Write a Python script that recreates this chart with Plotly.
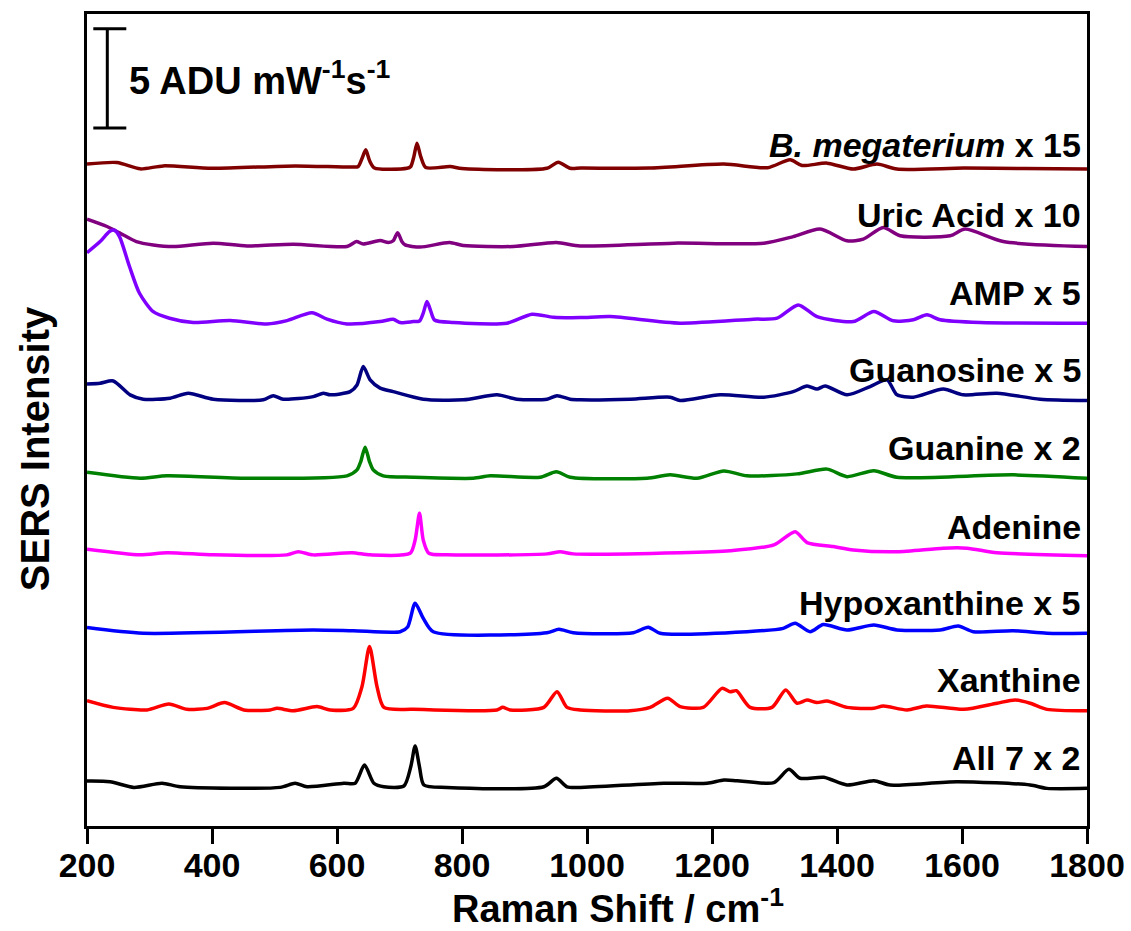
import plotly.graph_objects as go

# ---- data (Raman shift / cm-1, stacked intensity in ADU mW-1 s-1) ----
bmeg_x = [200, 248, 285, 322, 400, 533, 626, 634, 640, 646, 652, 660, 712, 718, 723, 728, 734, 742, 781, 800, 936, 954, 973, 990, 1100, 1219, 1289, 1325, 1344, 1384, 1426, 1464, 1496, 1603, 1700, 1800]
bmeg_y = [33.42, 33.50, 33.18, 33.33, 33.21, 33.33, 33.27, 33.30, 33.70, 34.14, 33.60, 33.22, 33.21, 33.30, 33.80, 34.48, 33.80, 33.25, 33.30, 33.20, 33.21, 33.52, 33.21, 33.22, 33.22, 33.42, 33.24, 33.64, 33.35, 33.47, 33.17, 33.42, 33.17, 33.22, 33.20, 33.17]

uric_x = [200, 232, 252, 279, 306, 338, 402, 456, 530, 616, 631, 642, 669, 682, 690, 697, 704, 709, 733, 780, 802, 882, 951, 989, 1139, 1283, 1330, 1373, 1416, 1442, 1474, 1501, 1581, 1605, 1666, 1800]
uric_y = [30.64, 30.27, 29.95, 29.51, 29.34, 29.26, 29.43, 29.29, 29.38, 29.26, 29.51, 29.39, 29.56, 29.46, 29.55, 29.96, 29.50, 29.34, 29.23, 29.46, 29.31, 29.26, 29.46, 29.29, 29.43, 29.43, 29.76, 30.14, 29.55, 29.63, 30.22, 29.80, 29.80, 30.14, 29.51, 29.26]

amp_x = [200, 221, 236, 244, 252, 268, 284, 306, 332, 370, 429, 488, 520, 560, 584, 616, 669, 690, 701, 722, 732, 738, 744, 750, 756, 786, 872, 912, 946, 989, 1037, 1149, 1266, 1304, 1338, 1368, 1426, 1459, 1490, 1522, 1544, 1565, 1629, 1800]
amp_y = [28.95, 29.51, 30.02, 30.08, 29.76, 28.25, 26.90, 25.97, 25.64, 25.42, 25.52, 25.35, 25.52, 25.92, 25.59, 25.35, 25.47, 25.59, 25.42, 25.47, 25.50, 25.90, 26.48, 26.00, 25.55, 25.42, 25.39, 25.84, 25.69, 25.67, 25.72, 25.39, 25.59, 25.64, 26.31, 25.72, 25.47, 25.98, 25.51, 25.56, 25.81, 25.56, 25.42, 25.39]

guo_x = [200, 221, 242, 269, 290, 333, 362, 402, 482, 498, 514, 562, 578, 589, 621, 632, 642, 653, 669, 690, 738, 802, 856, 888, 936, 952, 973, 989, 1069, 1133, 1149, 1213, 1283, 1330, 1352, 1368, 1381, 1416, 1453, 1480, 1496, 1522, 1570, 1602, 1656, 1725, 1800]
guo_y = [22.32, 22.36, 22.47, 21.77, 21.55, 21.60, 21.85, 21.55, 21.52, 21.73, 21.55, 21.68, 21.85, 21.77, 21.93, 22.27, 23.20, 22.53, 22.11, 21.93, 21.55, 21.52, 21.77, 21.55, 21.55, 21.73, 21.55, 21.52, 21.55, 21.65, 21.48, 21.77, 21.65, 21.93, 22.22, 22.06, 22.22, 21.77, 22.19, 22.53, 21.77, 21.65, 22.06, 21.77, 21.85, 21.55, 21.48]

gua_x = [200, 285, 328, 456, 616, 632, 638, 645, 652, 658, 674, 722, 818, 845, 925, 951, 973, 1096, 1133, 1176, 1219, 1256, 1336, 1384, 1416, 1459, 1496, 1682, 1800]
gua_y = [17.86, 17.56, 17.68, 17.56, 17.68, 17.98, 18.40, 19.13, 18.40, 17.98, 17.68, 17.61, 17.56, 17.68, 17.61, 17.89, 17.61, 17.56, 17.73, 17.56, 17.93, 17.68, 17.78, 18.02, 17.64, 17.94, 17.61, 17.73, 17.56]

ade_x = [200, 285, 328, 402, 520, 538, 562, 624, 653, 717, 725, 732, 738, 747, 776, 936, 957, 978, 1149, 1229, 1299, 1333, 1352, 1394, 1426, 1496, 1570, 1608, 1656, 1800]
ade_y = [13.97, 13.69, 13.80, 13.69, 13.69, 13.85, 13.69, 13.80, 13.69, 13.77, 14.44, 15.79, 14.44, 13.77, 13.69, 13.74, 13.85, 13.74, 13.80, 13.90, 14.19, 14.86, 14.31, 14.11, 13.94, 13.85, 14.03, 14.03, 13.80, 13.64]

hyp_x = [200, 290, 562, 626, 701, 713, 725, 738, 754, 936, 955, 978, 1074, 1098, 1117, 1256, 1314, 1333, 1357, 1378, 1416, 1459, 1496, 1565, 1594, 1618, 1682, 1736, 1800]
hyp_y = [10.02, 9.73, 9.90, 9.86, 9.81, 10.05, 11.25, 10.49, 9.81, 9.76, 9.93, 9.76, 9.76, 10.04, 9.73, 9.81, 9.98, 10.24, 9.81, 10.17, 9.90, 10.15, 9.90, 9.90, 10.10, 9.81, 9.86, 9.73, 9.73]

xan_x = [200, 242, 296, 331, 360, 392, 420, 451, 493, 504, 530, 568, 589, 626, 640, 652, 664, 675, 722, 856, 865, 877, 931, 952, 968, 989, 1069, 1101, 1129, 1149, 1186, 1216, 1229, 1239, 1261, 1296, 1318, 1336, 1352, 1368, 1384, 1416, 1459, 1474, 1512, 1543, 1603, 1656, 1685, 1709, 1736, 1800]
xan_y = [6.33, 5.99, 5.86, 6.16, 5.89, 5.94, 6.23, 5.86, 5.86, 5.94, 5.82, 6.03, 5.86, 5.94, 7.04, 9.06, 7.04, 5.99, 5.89, 5.86, 5.99, 5.86, 5.99, 6.78, 5.99, 5.86, 5.82, 5.99, 6.45, 6.03, 5.99, 6.95, 6.78, 6.83, 5.99, 5.99, 6.87, 6.20, 6.36, 6.23, 6.31, 5.99, 5.94, 6.06, 5.86, 6.06, 5.89, 6.20, 6.36, 6.20, 5.89, 5.82]

all_x = [200, 237, 275, 320, 349, 509, 533, 552, 611, 629, 644, 659, 675, 707, 718, 725, 732, 739, 776, 931, 951, 968, 989, 1123, 1192, 1219, 1240, 1299, 1323, 1341, 1379, 1416, 1459, 1485, 1592, 1709, 1736, 1800]
all_y = [2.27, 2.24, 1.95, 2.16, 1.98, 1.95, 2.16, 1.98, 2.16, 2.16, 3.08, 2.16, 1.98, 2.02, 2.99, 4.04, 2.99, 2.07, 1.95, 1.98, 2.41, 1.98, 1.95, 2.16, 2.16, 2.32, 2.29, 2.19, 2.86, 2.41, 2.46, 2.07, 2.29, 2.07, 2.24, 2.07, 1.90, 1.90]

series_names = ["<i>B. megaterium</i> x 15", "Uric Acid x 10", "AMP x 5", "Guanosine x 5", "Guanine x 2",
                "Adenine", "Hypoxanthine x 5", "Xanthine", "All 7 x 2"]
series_x = [bmeg_x, uric_x, amp_x, guo_x, gua_x, ade_x, hyp_x, xan_x, all_x]
series_y = [bmeg_y, uric_y, amp_y, guo_y, gua_y, ade_y, hyp_y, xan_y, all_y]
series_colors = ["#800000", "#800080", "#8000FF", "#000080", "#008000", "#FF00FF", "#0000FF", "#FF0000", "#000000"]
label_y = [34.39, 30.86, 26.92, 23.03, 19.09, 15.10, 11.26, 7.37, 3.43]

x_ticks = [200, 400, 600, 800, 1000, 1200, 1400, 1600, 1800]
scale_bar = 5  # ADU mW-1 s-1
scale_bar_top = 40.25

FONT = "Liberation Sans, Arial, sans-serif"

fig = go.Figure()
for nm, xs, ys, c in zip(series_names, series_x, series_y, series_colors):
    fig.add_trace(go.Scatter(x=xs, y=ys, mode="lines", name=nm,
                             line=dict(color=c, width=3.5, shape="spline", smoothing=0.7),
                             showlegend=False))

for nm, ly in zip(series_names, label_y):
    fig.add_annotation(x=1793, y=ly, xref="x", yref="y", text=nm, showarrow=False,
                       xanchor="right", yanchor="middle",
                       font=dict(family=FONT, size=34, color="black", weight="bold"))

# scale bar
fig.add_shape(type="line", xref="paper", yref="y", x0=0.0203, x1=0.0203,
              y0=scale_bar_top - scale_bar, y1=scale_bar_top, line=dict(color="black", width=3))
for yy in (scale_bar_top - scale_bar, scale_bar_top):
    fig.add_shape(type="line", xref="paper", yref="y", x0=0.0063, x1=0.0393,
                  y0=yy, y1=yy, line=dict(color="black", width=3))
fig.add_annotation(x=0.040, y=scale_bar_top - scale_bar / 2, xref="paper", yref="y",
                   text="%d ADU mW<sup>-1</sup>s<sup>-1</sup>" % scale_bar, showarrow=False,
                   xanchor="left", yanchor="middle",
                   font=dict(family=FONT, size=38, color="black", weight="bold"))

# axis titles
fig.add_annotation(x=0.531, y=-0.098, xref="paper", yref="paper",
                   text="Raman Shift / cm<sup>-1</sup>", showarrow=False,
                   xanchor="center", yanchor="middle",
                   font=dict(family=FONT, size=38, color="black", weight="bold"))
fig.add_annotation(x=-0.052, y=0.464, xref="paper", yref="paper", textangle=-90,
                   text="SERS Intensity", showarrow=False,
                   xanchor="center", yanchor="middle",
                   font=dict(family=FONT, size=40, color="black", weight="bold"))

fig.update_layout(
    width=1131, height=931,
    margin=dict(l=87, r=44, t=14, b=105, autoexpand=False),
    plot_bgcolor="white", paper_bgcolor="white",
    xaxis=dict(range=[200, 1800], tickvals=x_ticks, ticks="outside", ticklen=15, tickwidth=3,
               tickcolor="black", showline=True, linewidth=3, linecolor="black", mirror=True,
               showgrid=False, zeroline=False, automargin=False, ticklabelstandoff=-8,
               tickfont=dict(family=FONT, size=34, color="black", weight="bold")),
    yaxis=dict(range=[0, 41.0], showticklabels=False, ticks="", showline=True, linewidth=3,
               linecolor="black", mirror=True, showgrid=False, zeroline=False, automargin=False),
)

fig.write_html("out.html")
